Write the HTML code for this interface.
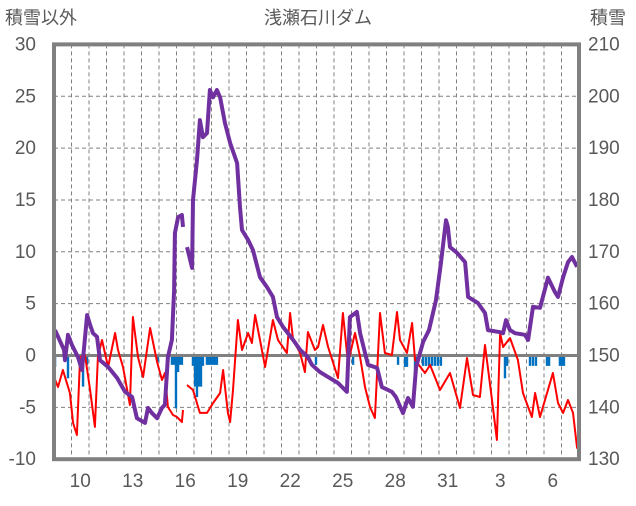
<!DOCTYPE html>
<html><head><meta charset="utf-8"><style>
body{margin:0;background:#fff;}
svg text{font-family:"Liberation Sans","Noto Sans CJK JP",sans-serif;fill:#595959;}
</style></head><body>
<svg id="c" width="636" height="501" viewBox="0 0 636 501">
<text x="5" y="24" font-size="18">積雪以外</text>
<text x="318" y="24" font-size="18" text-anchor="middle">浅瀬石川ダム</text>
<text x="590" y="24" font-size="18">積雪</text>
<g id="grid"></g><g id="bars"></g><g id="lines"></g><g id="axes"></g>
</svg>
<script>
const leftTicks=[30,25,20,15,10,5,0,-5,-10];
const rightTicks=[210,200,190,180,170,160,150,140,130];
const dayLabels=["10","13","16","19","22","25","28","31","3","6"];
const dayLabelIdx=[1,4,7,10,13,16,19,22,25,28];
const snowT=[0.06,0.57,0.63,0.8,1.03,1.37,1.6,1.89,2.06,2.23,2.46,2.63,3.09,3.6,4.06,4.46,4.74,5.2,5.37,5.6,5.89,6.17,6.34,6.51,6.74,6.86,6.91,7.09,7.31,7.37,null,7.6,7.89,7.94,8.17,8.34,8.51,8.74,8.91,9.09,9.31,9.49,9.77,10.06,10.46,10.63,10.74,11.09,11.37,11.77,12.17,12.51,12.74,13.09,13.66,14.06,14.51,14.74,15.2,15.49,16.23,16.74,16.91,17.31,17.49,17.94,18.46,18.74,19.31,19.54,19.94,20.23,20.51,20.69,21.09,21.43,21.83,22.11,22.4,22.51,22.63,23.03,23.49,23.66,24.23,24.63,24.8,25.49,25.66,25.83,26.06,26.34,26.91,27.09,27.37,27.77,28.23,28.63,28.8,29.09,29.37,29.6,29.89];
const snowV=[154.9,151.1,149.1,154.0,152.0,149.7,147.2,157.8,155.9,154.3,153.6,149.1,147.8,145.7,143.0,142.0,137.9,137.0,139.9,138.9,137.9,139.9,140.5,149.7,153.0,162.6,173.6,176.7,177.1,174.8,null,170.9,166.9,180.0,187.7,195.4,192.1,192.9,201.2,199.8,201.2,199.8,194.8,191.0,187.1,178.6,174.2,172.3,170.3,165.1,163.2,161.3,157.4,155.5,153.0,151.1,149.7,148.2,146.8,146.2,144.7,143.0,157.4,158.4,154.3,148.2,147.6,143.9,143.0,142.0,138.9,141.8,140.1,147.8,152.6,154.9,160.7,167.8,176.1,174.8,170.9,169.8,168.0,161.3,160.1,158.2,154.9,154.5,154.3,156.8,154.9,154.3,154.0,153.0,159.4,159.2,165.0,162.2,161.3,165.1,168.0,169.0,167.1];
const tempT=[0,0.23,0.51,0.91,1.09,1.31,1.49,1.77,2.06,2.34,2.51,2.74,3.09,3.49,3.66,3.94,4.34,4.51,4.8,5.09,5.49,5.89,6.17,6.34,6.51,6.8,7.03,7.31,7.37,null,7.6,7.94,8.34,8.74,9.09,9.49,9.66,9.94,10.06,10.23,10.51,10.74,11.09,11.31,11.49,11.77,12.06,12.51,12.8,13.31,13.49,13.66,14.06,14.34,14.51,14.91,15.09,15.37,15.66,16.23,16.51,16.8,17.2,17.49,17.77,18.06,18.34,18.63,18.91,19.31,19.6,19.77,20.17,20.46,20.63,21.2,21.49,22.06,22.63,23.2,23.6,23.94,24.34,24.63,25.03,25.31,25.49,25.66,26.06,26.51,26.8,27.09,27.31,27.49,27.77,28.06,28.51,28.8,29.09,29.37,29.66,29.89,30.0];
const tempV=[-2.07,-3.04,-1.40,-3.62,-6.51,-7.67,-0.14,0.05,-3.33,-6.89,-0.14,1.49,-1.11,2.17,0.53,-1.11,-4.77,3.71,-0.14,-2.07,2.65,-0.63,-2.36,-1.69,-4.97,-5.74,-5.93,-6.41,-5.26,null,-2.84,-3.33,-5.54,-5.54,-4.58,-3.62,-1.40,-5.54,-6.41,-3.33,3.42,0.53,2.17,1.21,3.91,1.49,-1.11,3.42,1.49,0.24,4.10,1.49,0.24,-1.59,2.27,0.53,0.82,2.94,0.82,-2.17,4.10,-0.72,2.17,-0.14,-3.04,-4.97,-6.03,4.10,0.24,0.05,4.19,1.49,0.24,3.13,-0.43,-1.69,-0.92,-3.33,-1.69,-5.06,-0.24,-3.81,-4.0,1.01,-4.29,-8.15,2.17,0.82,1.69,-0.43,-3.62,-4.97,-5.93,-3.62,-5.93,-4.29,-1.69,-4.58,-5.54,-4.29,-5.54,-8.92,-7.47];
const barT=[0.06,0.8,1.66,1.89,5.94,6.74,6.86,6.97,7.09,7.2,7.31,7.94,8.06,8.17,8.29,8.4,8.51,8.74,8.86,8.97,9.09,9.2,9.31,14.97,17.09,19.66,20.06,20.17,20.63,20.74,21.09,21.26,21.43,21.6,21.77,21.94,22.11,25.77,25.89,27.2,27.37,27.54,28.17,28.29,28.91,29.03,29.14];
const barV=[-1.1,-2.2,-3.0,-0.9,-0.6,-0.9,-0.9,-5.1,-1.6,-0.9,-0.9,-1.0,-3.0,-4.0,-3.0,-3.0,-1.0,-0.9,-0.9,-0.9,-0.9,-0.9,-0.9,-0.9,-0.9,-0.9,-1.1,-1.1,-2.2,-1.0,-1.0,-1.0,-1.0,-1.0,-1.0,-1.0,-1.0,-2.2,-1.0,-1.0,-1.0,-1.0,-1.0,-1.0,-1.0,-1.0,-1.0];

const X0=54,DW=17.5,YT=44.4,YB=459.2,XR=X0+30*DW;
const xs=t=>X0+DW*t;
const yL=v=>YB-(v+10)*(YB-YT)/40;
const yR=v=>YB-(v-130)*(YB-YT)/80;
const NS='http://www.w3.org/2000/svg';
function mk(tag,attrs,parent){const e=document.createElementNS(NS,tag);for(const k in attrs)e.setAttribute(k,attrs[k]);document.getElementById(parent).appendChild(e);return e;}
// grid
for(let i=1;i<30;i++){
 const g=mk('line',{x1:xs(i),x2:xs(i),y1:YT,y2:YB,stroke:'#808080','stroke-width':1,'stroke-dasharray':'4,3'},'grid');
 
 
}
leftTicks.forEach(v=>{
 if(v!==0&&v!==30&&v!==-10){const g=mk('line',{x1:X0,x2:XR,y1:yL(v),y2:yL(v),stroke:'#808080','stroke-width':1,'stroke-dasharray':'4,3'},'grid');
 
 }
 const t=mk('text',{x:36,y:yL(v)+6,'font-size':19,'text-anchor':'end'},'axes');t.textContent=v;
 
 
});
rightTicks.forEach(v=>{
 const t=mk('text',{x:588,y:yR(v)+6,'font-size':19},'axes');t.textContent=v;
 
 
});
dayLabels.forEach((s,i)=>{
 const t=mk('text',{x:xs(dayLabelIdx[i]+0.5),y:487,'font-size':19,'text-anchor':'middle'},'axes');t.textContent=s;
 
 
});
// bars
barT.forEach((t,i)=>{
 const y0=yL(0),y1=yL(barV[i]);
 const b=mk('rect',{x:xs(t)-1.2,y:Math.min(y0,y1),width:2.4,height:Math.abs(y1-y0),fill:'#0070C0'},'bars');
 
 
});
function pathOf(T,V,yf){let d='',pen=false;T.forEach((t,i)=>{if(t===null||V[i]===null){pen=false;return;}d+=(pen?'L':'M')+xs(t).toFixed(1)+','+yf(V[i]).toFixed(1);pen=true;});return d;}
const zl=mk('line',{x1:X0,x2:XR,y1:yL(0),y2:yL(0),stroke:'#808080','stroke-width':3},'lines');


const r=mk('path',{d:pathOf(tempT,tempV,yL),fill:'none',stroke:'#FF0000','stroke-width':2,'stroke-linejoin':'round'},'lines');


const p=mk('path',{d:pathOf(snowT,snowV,yR),fill:'none',stroke:'#7030A0','stroke-width':4,'stroke-linejoin':'round'},'lines');


const f=mk('rect',{x:X0,y:YT,width:XR-X0,height:YB-YT,fill:'none',stroke:'#808080','stroke-width':4},'axes');


</script>
</body></html>
